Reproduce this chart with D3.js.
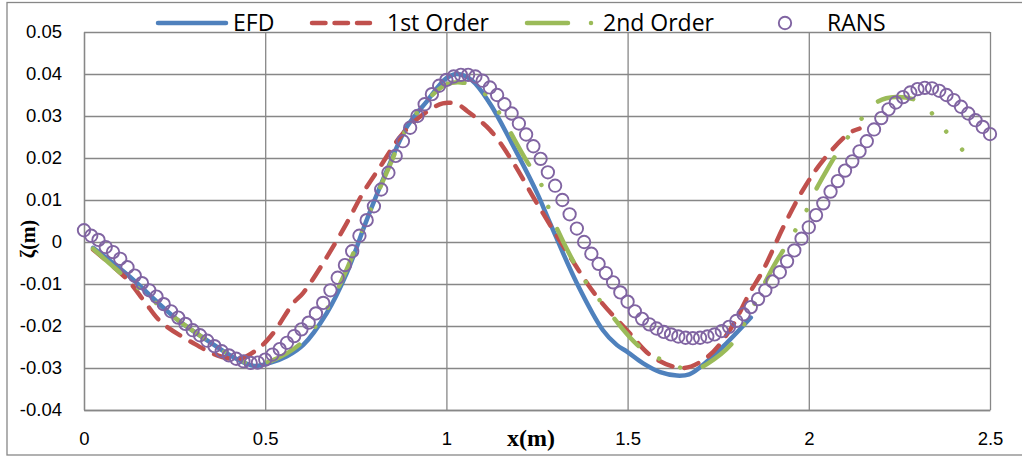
<!DOCTYPE html>
<html>
<head>
<meta charset="utf-8">
<script src="https://cdn.jsdelivr.net/npm/d3@7"></script>
<style>
body { margin: 0; background: #fff; }
svg { display: block; font-family: "Open Sans", sans-serif; }
.axis text { font-size: 18.5px; fill: #000; }
.axis line, .axis path { stroke: #878787; stroke-width: 1.3; }
</style>
</head>
<body>
<div id="chart"></div>
<script>
// series (x in m, zeta in m)
var efdX = [0.025, 0.12, 0.256, 0.35, 0.42, 0.47, 0.513, 0.56, 0.605, 0.67, 0.725, 0.78, 0.836, 0.891, 0.946, 1.0, 1.03, 1.07, 1.12, 1.18, 1.25, 1.286, 1.36, 1.432, 1.47, 1.5, 1.543, 1.59, 1.636, 1.67, 1.7, 1.774, 1.84];
var efdZ = [-0.0014, -0.0078, -0.0184, -0.0240, -0.0278, -0.0295, -0.0288, -0.0272, -0.0245, -0.0169, -0.0074, 0.0052, 0.0171, 0.0274, 0.0335, 0.0390, 0.0400, 0.0385, 0.0330, 0.0236, 0.0117, 0.0045, -0.0098, -0.0210, -0.0245, -0.0262, -0.0289, -0.0310, -0.0318, -0.0315, -0.0298, -0.0240, -0.0180];

var firstX = [0.025, 0.12, 0.168, 0.212, 0.3, 0.375, 0.43, 0.486, 0.522, 0.577, 0.605, 0.67, 0.725, 0.77, 0.817, 0.872, 0.927, 0.99, 1.03, 1.057, 1.12, 1.18, 1.25, 1.33, 1.415, 1.498, 1.57, 1.653, 1.72, 1.782, 1.837, 1.874, 1.93, 1.984, 2.04, 2.113, 2.14];
var firstZ = [-0.0018, -0.0090, -0.0143, -0.0190, -0.0240, -0.0272, -0.0278, -0.0250, -0.0217, -0.0146, -0.0121, -0.0036, 0.0045, 0.0117, 0.0179, 0.0250, 0.0298, 0.0330, 0.0328, 0.0312, 0.0267, 0.0195, 0.0092, -0.0020, -0.0130, -0.0210, -0.0274, -0.0300, -0.0274, -0.0210, -0.0121, -0.0067, 0.0036, 0.0124, 0.0195, 0.0260, 0.0270];

var secondX = [0.025, 0.113, 0.25, 0.35, 0.42, 0.47, 0.52, 0.6, 0.67, 0.725, 0.78, 0.84, 0.89, 0.95, 1.0, 1.04, 1.08, 1.12, 1.22, 1.26, 1.29, 1.369, 1.443, 1.534, 1.617, 1.68, 1.72, 1.79, 1.838, 1.9, 1.94, 1.99, 2.017, 2.047, 2.08, 2.147, 2.188, 2.24, 2.307, 2.38, 2.423];
var secondZ = [-0.0016, -0.0083, -0.0180, -0.0240, -0.0278, -0.0292, -0.0282, -0.0240, -0.0160, -0.0065, 0.0055, 0.0175, 0.0270, 0.0340, 0.0375, 0.0380, 0.0370, 0.0340, 0.0195, 0.0140, 0.0062, -0.0074, -0.0160, -0.0250, -0.0289, -0.0305, -0.0290, -0.0240, -0.0168, -0.0062, -0.0005, 0.0069, 0.0120, 0.0167, 0.0214, 0.0295, 0.0333, 0.0345, 0.0333, 0.0262, 0.0220];

var ransX = [0, 0.02, 0.04, 0.06, 0.08, 0.1, 0.12, 0.14, 0.16, 0.18, 0.2, 0.22, 0.24, 0.26, 0.28, 0.3, 0.32, 0.34, 0.36, 0.38, 0.4, 0.42, 0.44, 0.46, 0.48, 0.5, 0.52, 0.54, 0.56, 0.58, 0.6, 0.62, 0.64, 0.66, 0.68, 0.7, 0.72, 0.74, 0.76, 0.78, 0.8, 0.82, 0.84, 0.86, 0.88, 0.9, 0.92, 0.94, 0.96, 0.98, 1.0, 1.02, 1.04, 1.06, 1.08, 1.1, 1.12, 1.14, 1.16, 1.18, 1.2, 1.22, 1.24, 1.26, 1.28, 1.3, 1.32, 1.34, 1.36, 1.38, 1.4, 1.42, 1.44, 1.46, 1.48, 1.5, 1.52, 1.54, 1.56, 1.58, 1.6, 1.62, 1.64, 1.66, 1.68, 1.7, 1.72, 1.74, 1.76, 1.78, 1.8, 1.82, 1.84, 1.86, 1.88, 1.9, 1.92, 1.94, 1.96, 1.98, 2.0, 2.02, 2.04, 2.06, 2.08, 2.1, 2.12, 2.14, 2.16, 2.18, 2.2, 2.22, 2.24, 2.26, 2.28, 2.3, 2.32, 2.34, 2.36, 2.38, 2.4, 2.42, 2.44, 2.46, 2.48, 2.5];
var ransZ = [0.0028, 0.0015, 0.0005, -0.0012, -0.0024, -0.0040, -0.0060, -0.0080, -0.0098, -0.0115, -0.0130, -0.0148, -0.0165, -0.0180, -0.0195, -0.0210, -0.0222, -0.0235, -0.0248, -0.0260, -0.0270, -0.0278, -0.0284, -0.0288, -0.0287, -0.0280, -0.0268, -0.0255, -0.0240, -0.0224, -0.0208, -0.0192, -0.0170, -0.0145, -0.0115, -0.0085, -0.0055, -0.0022, 0.0015, 0.0052, 0.0085, 0.0125, 0.0165, 0.0205, 0.0240, 0.0272, 0.0300, 0.0328, 0.0352, 0.0372, 0.0386, 0.0394, 0.0398, 0.0398, 0.0394, 0.0384, 0.0368, 0.0350, 0.0328, 0.0306, 0.0282, 0.0256, 0.0228, 0.0198, 0.0166, 0.0134, 0.0100, 0.0066, 0.0032, 0.0000, -0.0028, -0.0052, -0.0074, -0.0096, -0.0120, -0.0142, -0.0165, -0.0183, -0.0196, -0.0206, -0.0214, -0.0220, -0.0225, -0.0228, -0.0229, -0.0228, -0.0225, -0.0220, -0.0212, -0.0202, -0.0188, -0.0172, -0.0155, -0.0136, -0.0115, -0.0094, -0.0072, -0.0046, -0.0020, 0.0008, 0.0035, 0.0064, 0.0092, 0.0120, 0.0145, 0.0170, 0.0192, 0.0216, 0.0240, 0.0268, 0.0295, 0.0316, 0.0332, 0.0345, 0.0356, 0.0364, 0.0367, 0.0366, 0.0360, 0.0350, 0.0338, 0.0322, 0.0306, 0.0290, 0.0274, 0.0257];

var xTicks = [0, 0.5, 1, 1.5, 2, 2.5],
    xLabels = ["0", "0.5", "1", "1.5", "2", "2.5"],
    yTicks = [-0.04, -0.03, -0.02, -0.01, 0, 0.01, 0.02, 0.03, 0.04, 0.05],
    yLabels = ["-0.04", "-0.03", "-0.02", "-0.01", "0", "0.01", "0.02", "0.03", "0.04", "0.05"],
    seriesNames = ["EFD", "1st Order", "2nd Order", "RANS"];

var colors = { efd: "#4f81bd", first: "#c0504d", second: "#9bbb59", rans: "#8064a2" };

var chart = {
    w: 1022,
    h: 457,
    left: 84, right: 990, top: 32, bottom: 410,
    svg: undefined,
    x: undefined,
    y: undefined,
    plot: function() {
        this.svg = d3.select("#chart").append("svg")
            .attr("width", this.w)
            .attr("height", this.h);

        // outer frame
        this.svg.append("rect")
            .attr("x", 7).attr("y", 2.5)
            .attr("width", 1030).attr("height", 452.5)
            .attr("fill", "none").attr("stroke", "#878787").attr("stroke-width", 1.3);

        this.x = d3.scaleLinear().domain([0, 2.5]).range([this.left, this.right]);
        this.y = d3.scaleLinear().domain([-0.04, 0.05]).range([this.bottom, this.top]);

        var xAxis = d3.axisBottom(this.x)
            .tickValues(xTicks)
            .tickFormat(function(d, i) { return xLabels[i]; })
            .tickSize(-(this.bottom - this.top))
            .tickSizeOuter(0)
            .tickPadding(22);
        this.svg.append("g")
            .attr("class", "axis")
            .attr("transform", "translate(0," + this.bottom + ")")
            .call(xAxis);

        var yAxis = d3.axisLeft(this.y)
            .tickValues(yTicks)
            .tickFormat(function(d, i) { return yLabels[i]; })
            .tickSize(-(this.right - this.left))
            .tickSizeOuter(0)
            .tickPadding(22);
        this.svg.append("g")
            .attr("class", "axis")
            .attr("transform", "translate(" + this.left + ",0)")
            .call(yAxis);

        // axis titles
        this.svg.append("text")
            .attr("x", 531).attr("y", 446)
            .attr("text-anchor", "middle")
            .style("font-family", "'Liberation Serif', 'Times New Roman', serif")
            .style("font-weight", "bold")
            .style("font-size", "24px")
            .text("x(m)");
        this.svg.append("text")
            .attr("transform", "translate(35,239) rotate(-90)")
            .attr("text-anchor", "middle")
            .style("font-family", "'Liberation Serif', 'Times New Roman', serif")
            .style("font-weight", "bold")
            .style("font-size", "20px")
            .text("ζ(m)");

        this.addLine(efdX, efdZ, colors.efd, null);
        this.addLine(firstX, firstZ, colors.first, "15,12");
        this.addLine(secondX, secondZ, colors.second, "36,24,0.01,23,0.01,24");
        this.addCircles(ransX, ransZ, colors.rans);
        this.legend();
    },
    addLine: function(xs, zs, color, dash) {
        var self = this;
        var line = d3.line()
            .x(function(d, i) { return self.x(xs[i]); })
            .y(function(d) { return self.y(d); })
            .curve(d3.curveCatmullRom.alpha(0.5));
        var p = this.svg.append("path")
            .datum(zs)
            .attr("d", line)
            .attr("fill", "none")
            .attr("stroke", color)
            .attr("stroke-width", 4.5)
            .attr("stroke-linecap", "round")
            .attr("stroke-linejoin", "round");
        if (dash) p.attr("stroke-dasharray", dash);
    },
    addCircles: function(xs, zs, color) {
        var self = this;
        this.svg.append("g").selectAll("circle")
            .data(zs)
            .enter()
            .append("circle")
            .attr("cx", function(d, i) { return self.x(xs[i]); })
            .attr("cy", function(d) { return self.y(d); })
            .attr("r", 6.2)
            .attr("fill", "none")
            .attr("stroke", color)
            .attr("stroke-width", 1.9);
    },
    legend: function() {
        var g = this.svg.append("g"),
            ly = 23;
        g.append("line").attr("x1", 158).attr("x2", 226).attr("y1", ly).attr("y2", ly)
            .attr("stroke", colors.efd).attr("stroke-width", 4.5).attr("stroke-linecap", "round");
        g.append("line").attr("x1", 312).attr("x2", 370).attr("y1", ly).attr("y2", ly)
            .attr("stroke", colors.first).attr("stroke-width", 4.5).attr("stroke-linecap", "round")
            .attr("stroke-dasharray", "13.5,9");
        g.append("line").attr("x1", 527).attr("x2", 592).attr("y1", ly).attr("y2", ly)
            .attr("stroke", colors.second).attr("stroke-width", 4.5).attr("stroke-linecap", "round")
            .attr("stroke-dasharray", "41,23,0.01,100");
        g.append("circle").attr("cx", 785).attr("cy", ly).attr("r", 6.2)
            .attr("fill", "none").attr("stroke", colors.rans).attr("stroke-width", 1.9);
        var textX = [233, 387, 603, 827];
        g.selectAll("text")
            .data(seriesNames)
            .enter()
            .append("text")
            .attr("x", function(d, i) { return textX[i]; })
            .attr("y", ly + 8)
            .style("font-size", "23px")
            .text(function(d) { return d; });
    }
};

chart.plot();
</script>
</body>
</html>
